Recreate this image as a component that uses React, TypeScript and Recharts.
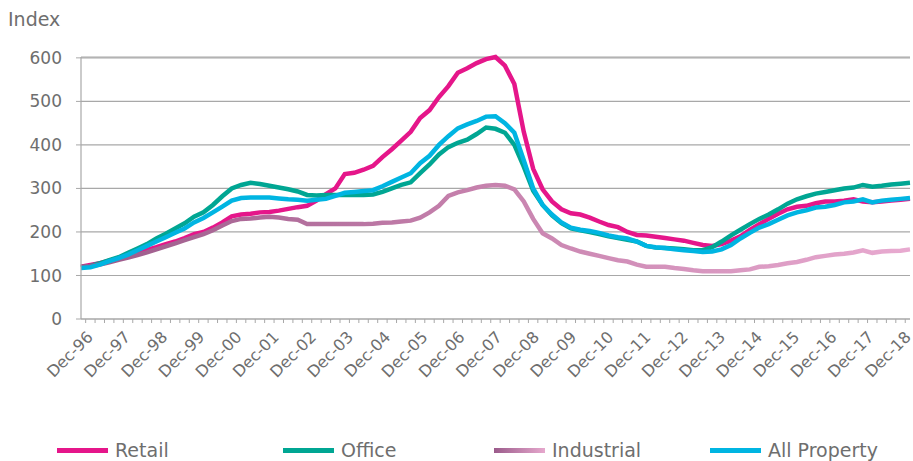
import React from "react";
import {
  LineChart,
  Line,
  XAxis,
  YAxis,
  CartesianGrid,
  Legend,
} from "recharts";

// quarterly labels, Dec-96 .. Dec-18
const quarterNames = ["Mar", "Jun", "Sep", "Dec"];
const years = [
  "97", "98", "99", "00", "01", "02", "03", "04", "05", "06", "07",
  "08", "09", "10", "11", "12", "13", "14", "15", "16", "17", "18",
];
const categories: string[] = ["Dec-96"];
years.forEach((y) => quarterNames.forEach((q) => categories.push(`${q}-${y}`)));

const retail = [
  120, 124, 128, 134, 140, 146, 152, 159, 165, 172, 178, 186,
  195, 200, 210, 222, 236, 240, 242, 245, 246, 249, 253, 257,
  260, 272, 287, 300, 333, 336, 343, 352, 372, 390, 410, 430,
  462, 480, 510, 535, 566, 576, 588, 597, 602, 582, 540, 430,
  345, 298, 270, 252, 243, 240, 233, 224, 216, 211, 200, 193,
  192, 189, 186, 183, 180, 175, 170, 168, 172, 180, 190, 205,
  218, 230, 242, 252, 258, 260, 266, 270, 270, 272, 275, 270,
  268, 270, 272, 274, 276,
];

const office = [
  118, 122, 128, 135, 142, 152, 162, 172, 185, 196, 208, 220,
  235, 245, 262, 282, 300, 308, 313, 310, 306, 302, 298, 293,
  285, 284, 285, 285, 285, 285, 285, 286, 292, 300, 308, 314,
  335, 355, 378, 395, 405, 412, 425, 440, 437, 428, 400, 350,
  295, 262, 238, 220, 208, 204, 200, 195, 190, 186, 182, 178,
  168, 164, 163, 162, 160, 158, 158, 165, 178, 192, 205, 218,
  230, 240, 252, 265, 275, 282, 288, 292, 296, 300, 302, 308,
  304, 306, 309, 311, 313,
];

const industrial = [
  120, 122, 125, 130, 136, 141, 147, 153, 160, 167, 174, 181,
  188, 195, 204, 215, 225, 230, 231, 233, 235, 233, 230, 228,
  218, 218, 218, 218, 218, 218, 218, 219, 221, 222, 224, 226,
  233, 245, 260, 283, 291, 296, 302, 306, 308, 306, 298, 270,
  230, 197, 185, 170, 162, 155, 150, 145, 140, 135, 132, 125,
  120, 120, 120, 117, 115, 112, 110, 110, 110, 110, 112, 114,
  120, 121, 124, 128, 131, 136, 142, 145, 148, 150, 153, 158,
  152, 155, 156, 157, 160,
];

const allProperty = [
  117, 119, 125, 133, 140, 148, 158, 168, 178, 188, 198, 208,
  222, 232, 245, 258, 272, 278, 279, 279, 279, 277, 275, 274,
  272, 274, 276, 283, 290, 292, 294, 296, 305, 315, 325, 335,
  358, 375, 400, 420, 438, 447, 455, 465, 466, 450, 428, 365,
  300, 262, 240, 222, 210, 205, 202, 198, 192, 188, 185, 178,
  168, 165, 163, 160, 158, 156, 154, 155, 160, 170, 185, 198,
  210, 218, 228, 238, 245, 250, 256, 258, 262, 268, 270, 275,
  268, 272, 274, 276, 278,
];

const yTicks = [0, 100, 200, 300, 400, 500, 600];

const data = categories.map((c, i) => ({
  quarter: c,
  retail: retail[i],
  office: office[i],
  industrial: industrial[i],
  allProperty: allProperty[i],
}));

const FONT = "'DejaVu Sans', sans-serif";
const TEXT = "#6e6e6e";
const GRID = "#a8a8a8";

const legendItems = [
  { name: "Retail", left: 57, bg: "#e5168a" },
  { name: "Office", left: 283, bg: "#00a693" },
  { name: "Industrial", left: 494, bg: "linear-gradient(to right, #9b5b8b, #e6a8cd)" },
  { name: "All Property", left: 710, bg: "#00b5e2" },
];

const BAND = 829 / categories.length;
const LAST = categories.length - 1;

function XTick(props: any) {
  const { x, y, payload } = props;
  const idx = payload.index;
  const label = idx % 4 === 0;
  // labels drift slightly left of their category across the axis
  const dx = 13 - (11 * idx) / LAST;
  const tx = x + dx;
  const ty = y + 19;
  return (
    <g>
      <line x1={x + BAND / 2} x2={x + BAND / 2} y1={y} y2={y + 4} stroke={GRID} />
      {label && (
        <text
          x={tx}
          y={ty}
          textAnchor="end"
          transform={`rotate(-45, ${tx}, ${ty})`}
          fill={TEXT}
          fontSize={16}
          fontFamily={FONT}
        >
          {payload.value}
        </text>
      )}
    </g>
  );
}

function renderLegend() {
  return (
    <div style={{ position: "relative", width: 913, height: 30, fontFamily: FONT }}>
      {legendItems.map((it) => (
        <div
          key={it.name}
          style={{ position: "absolute", left: it.left, top: 7, display: "flex", alignItems: "center" }}
        >
          <div style={{ width: 51, height: 5, background: it.bg }} />
          <span style={{ marginLeft: 7, fontSize: 19, color: TEXT, lineHeight: "24px" }}>{it.name}</span>
        </div>
      ))}
    </div>
  );
}

export default function App() {
  return (
    <div style={{ position: "absolute", left: 0, top: 0, width: 913, height: 461, background: "#fff" }}>
      <LineChart
        width={913}
        height={461}
        data={data}
        margin={{ top: 57, right: 3, bottom: 0, left: 0 }}
      >
        <defs>
          <linearGradient id="indGrad" x1="0" y1="0" x2="1" y2="0">
            <stop offset="0%" stopColor="#9b5a8a" />
            <stop offset="45%" stopColor="#c47fab" />
            <stop offset="100%" stopColor="#e8aad0" />
          </linearGradient>
        </defs>
        <CartesianGrid vertical={false} stroke={GRID} strokeWidth={1.2} />
        <XAxis
          dataKey="quarter"
          interval={0}
          height={112}
          tickSize={0}
          tickMargin={0}
          tickLine={false}
          axisLine={{ stroke: GRID, strokeWidth: 1.2 }}
          tick={<XTick />}
        />
        <YAxis
          width={81}
          domain={[0, 600]}
          ticks={yTicks}
          tickSize={5}
          tickMargin={14}
          tickLine={{ stroke: GRID }}
          axisLine={{ stroke: GRID, strokeWidth: 1.2 }}
          tick={{ fill: TEXT, fontSize: 17, fontFamily: FONT }}
          label={() => (
            <text x={8} y={26} fill={TEXT} fontSize={19} fontFamily={FONT}>
              Index
            </text>
          )}
        />
        <Legend
          verticalAlign="bottom"
          content={renderLegend}
          wrapperStyle={{ left: 0, bottom: 0, width: 913, height: 30 }}
        />
        <Line
          name="Retail"
          dataKey="retail"
          stroke="#e5168a"
          strokeWidth={4.5}
          dot={false}
          isAnimationActive={false}
        />
        <Line
          name="Office"
          dataKey="office"
          stroke="#00a693"
          strokeWidth={4.5}
          dot={false}
          isAnimationActive={false}
        />
        <Line
          name="Industrial"
          dataKey="industrial"
          stroke="url(#indGrad)"
          strokeWidth={4.5}
          dot={false}
          isAnimationActive={false}
        />
        <Line
          name="All Property"
          dataKey="allProperty"
          stroke="#00b5e2"
          strokeWidth={4.5}
          dot={false}
          isAnimationActive={false}
        />
      </LineChart>
    </div>
  );
}
